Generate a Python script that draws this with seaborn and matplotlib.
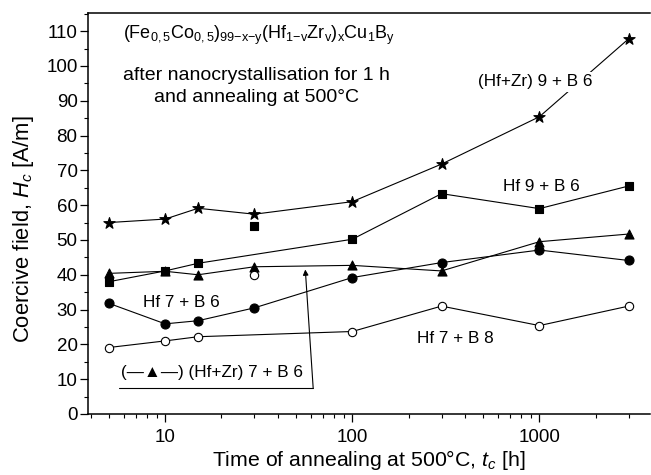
import numpy as np
import pandas as pd
import matplotlib
matplotlib.use("Agg")
import matplotlib.pyplot as plt
import seaborn as sns
from matplotlib.ticker import MultipleLocator, FixedLocator, FixedFormatter, NullFormatter, LogLocator

# ---- data ----
t_h = [5, 10, 15, 30, 100, 300, 1000, 3000]
hfzr9_b6 = [55.0, 56.0, 59.1, 57.4, 61.0, 71.8, 85.4, 107.8]
hf9_b6 = [38.0, 41.1, 43.3, 53.9, 50.2, 63.3, 59.0, 65.5]
hf9_b6_connected = [True, True, True, False, True, True, True, True]
hfzr7_b6 = [40.4, 41.0, 40.0, 42.3, 42.7, 41.1, 49.5, 51.7]
hf7_b6 = [31.8, 25.9, 26.8, 30.5, 39.2, 43.5, 47.1, 44.1]
hf7_b8 = [19.1, 21.0, 22.2, 40.0, 23.7, 31.0, 25.4, 31.0]
hf7_b8_connected = [True, True, True, False, True, True, True, True]
x_ticks = [10, 100, 1000]
x_tick_labels = ["10", "100", "1000"]
y_ticks = list(range(0, 111, 10))

sns.set_theme(style="ticks")
plt.rcParams['font.family'] = ['Liberation Sans', 'DejaVu Sans']
plt.rcParams['mathtext.fontset'] = 'custom'
plt.rcParams['mathtext.rm'] = 'Liberation Sans'
plt.rcParams['mathtext.it'] = 'Liberation Sans:italic'
plt.rcParams['mathtext.bf'] = 'Liberation Sans:bold'

fig = plt.figure(figsize=(6.51, 4.75), dpi=100)
ax = fig.add_axes([88/651, 61/475, 562/651, 401/475])

series = [
    (hfzr9_b6, [True]*8, '*', 'black', 8.5),
    (hf9_b6, hf9_b6_connected, 's', 'black', 5.5),
    (hfzr7_b6, [True]*8, '^', 'black', 6.5),
    (hf7_b6, [True]*8, 'o', 'black', 6.5),
    (hf7_b8, hf7_b8_connected, 'o', 'white', 6.0),
]
for vals, conn, mk, fc, ms in series:
    df = pd.DataFrame({"t": t_h, "v": vals, "c": conn})
    dl = df[df["c"]]
    sns.lineplot(data=dl, x="t", y="v", ax=ax, color="black", lw=0.8,
                 estimator=None, sort=True, zorder=2)
    sns.scatterplot(data=df, x="t", y="v", ax=ax, marker=mk, s=ms**2,
                    color=fc, edgecolor="black", linewidth=0.8, zorder=4)

ax.set_xscale("log")
ax.set_xlim(3.87, 3900)
ax.set_ylim(0, 115.2)
ax.xaxis.set_major_locator(FixedLocator(x_ticks))
ax.xaxis.set_major_formatter(FixedFormatter(x_tick_labels))
ax.xaxis.set_minor_locator(LogLocator(base=10, subs=np.arange(2, 10), numticks=20))
ax.xaxis.set_minor_formatter(NullFormatter())
ax.yaxis.set_major_locator(FixedLocator(y_ticks))
ax.yaxis.set_minor_locator(MultipleLocator(5))
ax.tick_params(axis='both', which='major', direction='out', length=6, width=0.9,
               labelsize=13.5, color='black', labelcolor='black')
ax.tick_params(axis='y', which='major', pad=1.5)
ax.tick_params(axis='x', which='major', pad=5)
ax.tick_params(axis='both', which='minor', direction='out', length=3, width=0.8, color='black')
for s in ax.spines.values():
    s.set_color('black')
    s.set_linewidth(1.1)
ax.spines['right'].set_visible(False)

ax.set_xlabel("Time of annealing at 500°C, $\\it{t}_{c}$ [h]", fontsize=15.3, color='black', labelpad=1)
ax.set_ylabel("Coercive field, $\\it{H}_{c}$ [A/m]", fontsize=15.8, color='black')
ax.yaxis.set_label_coords(-0.092, 0.461)

bb = dict(boxstyle="square,pad=0.15", fc="white", ec="none")
ax.text(0.062, 0.943,
        "(Fe$_{\\mathrm{0,5}}$Co$_{\\mathrm{0,5}}$)$_{\\mathrm{99{-}x{-}y}}$"
        "(Hf$_{\\mathrm{1{-}v}}$Zr$_{\\mathrm{v}}$)$_{\\mathrm{x}}$Cu$_{\\mathrm{1}}$B$_{\\mathrm{y}}$",
        transform=ax.transAxes, ha='left', va='center', fontsize=13, color='black')
ax.text(0.30, 0.845, "after nanocrystallisation for 1 h", transform=ax.transAxes,
        ha='center', va='center', fontsize=14, color='black')
ax.text(0.30, 0.79, "and annealing at 500°C", transform=ax.transAxes,
        ha='center', va='center', fontsize=14, color='black')

fs = 12.3
ax.text(953, 95.4, "(Hf+Zr) 9 + B 6", ha='center', va='center', fontsize=fs,
        color='black', bbox=bb, zorder=5)
ax.text(1026, 65.5, "Hf 9 + B 6", ha='center', va='center', fontsize=fs,
        color='black', bbox=bb, zorder=5)
ax.text(12.2, 31.9, "Hf 7 + B 6", ha='center', va='center', fontsize=fs,
        color='black', bbox=bb, zorder=5)
ax.text(355, 21.8, "Hf 7 + B 8", ha='center', va='center', fontsize=fs,
        color='black', bbox=bb, zorder=5)
ax.text(17.7, 11.8, "(—▲—) (Hf+Zr) 7 + B 6", ha='center', va='center', fontsize=fs,
        color='black', zorder=5)
ax.plot([5.68, 61.8], [7.5, 7.5], color='black', lw=0.8, zorder=3)
ax.annotate("", xy=(56.1, 41.5), xytext=(61.8, 7.5),
            arrowprops=dict(arrowstyle="-|>", color='black', lw=0.8,
                            mutation_scale=8, shrinkA=0, shrinkB=0), zorder=3)

fig.savefig("out.png", dpi=100)
